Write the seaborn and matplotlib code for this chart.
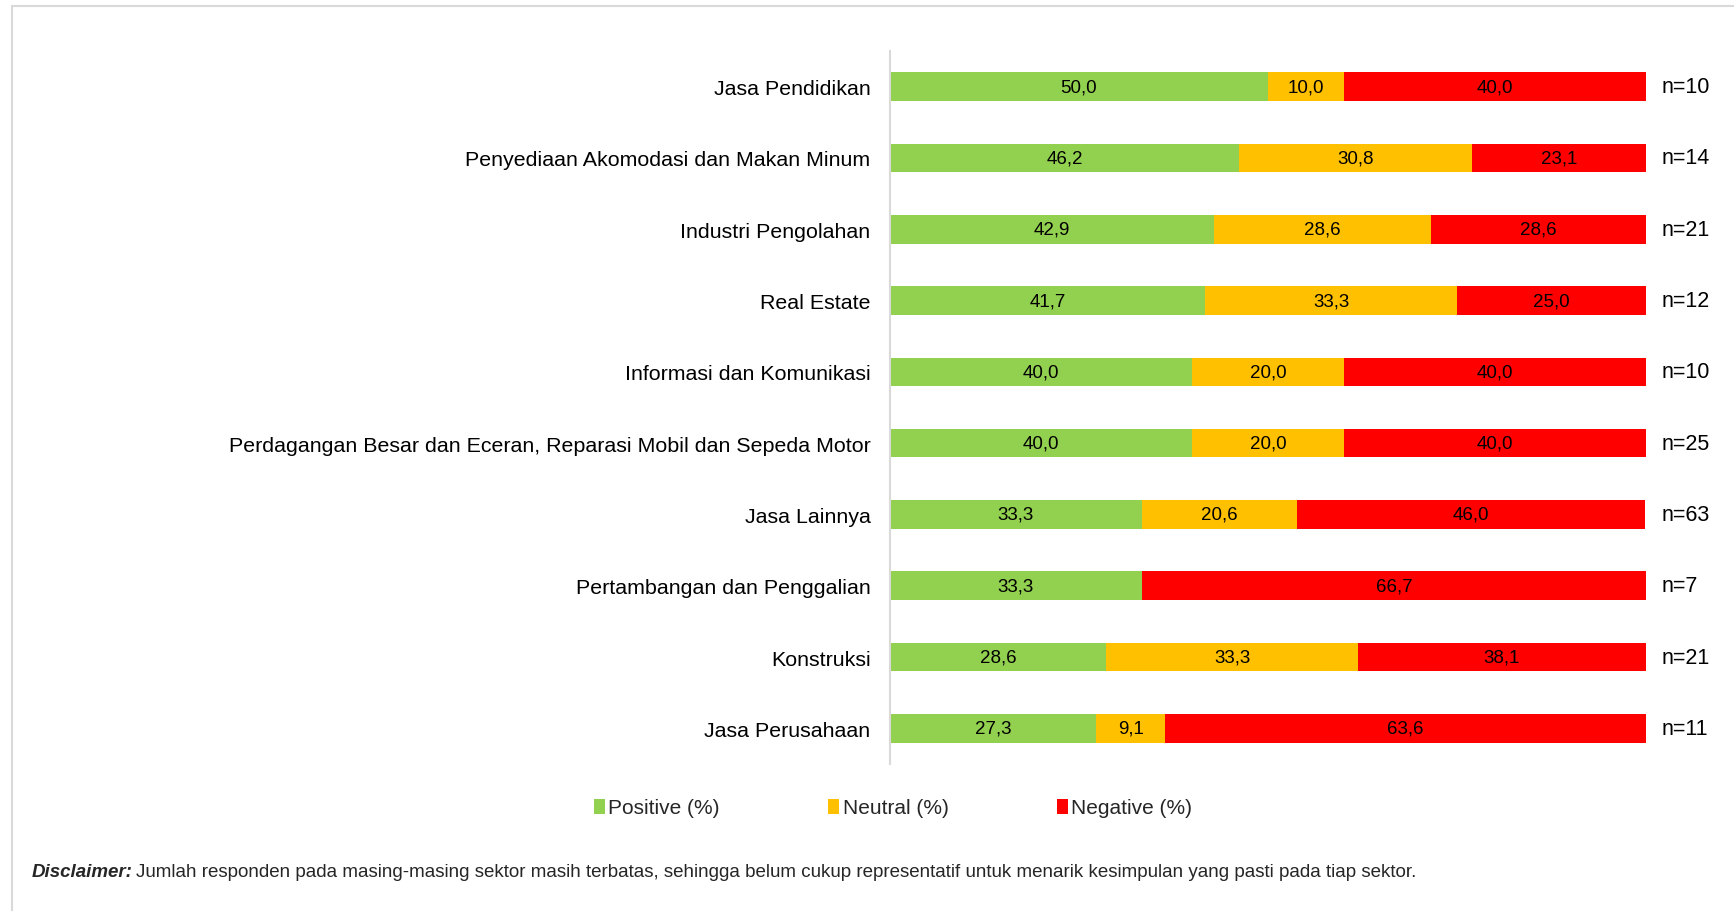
import matplotlib
matplotlib.use("Agg")
import matplotlib.pyplot as plt
import seaborn as sns
import pandas as pd
import numpy as np
from matplotlib.patches import Patch, Rectangle

sectors = [
    "Jasa Pendidikan",
    "Penyediaan Akomodasi dan Makan Minum",
    "Industri Pengolahan",
    "Real Estate",
    "Informasi dan Komunikasi",
    "Perdagangan Besar dan Eceran, Reparasi Mobil dan Sepeda Motor",
    "Jasa Lainnya",
    "Pertambangan dan Penggalian",
    "Konstruksi",
    "Jasa Perusahaan",
]
positive = [50.0, 46.2, 42.9, 41.7, 40.0, 40.0, 33.3, 33.3, 28.6, 27.3]
neutral = [10.0, 30.8, 28.6, 33.3, 20.0, 20.0, 20.6, 0.0, 33.3, 9.1]
negative = [40.0, 23.1, 28.6, 25.0, 40.0, 40.0, 46.0, 66.7, 38.1, 63.6]
n_resp = [10, 14, 21, 12, 10, 25, 63, 7, 21, 11]
legend_labels = ["Positive (%)", "Neutral (%)", "Negative (%)"]
colors = ["#92D050", "#FFC000", "#FF0000"]

sns.set_theme(style="white")
plt.rcParams["font.family"] = ["Liberation Sans", "DejaVu Sans"]

df = pd.DataFrame({
    "sector": sectors,
    "pos": positive,
    "neu": neutral,
    "neg": negative,
})
df["c1"] = df["pos"]
df["c2"] = df["pos"] + df["neu"]
df["c3"] = df["pos"] + df["neu"] + df["neg"]

fig = plt.figure(figsize=(17.34, 9.12), dpi=100)
ax = fig.add_axes([890 / 1734, 1 - 765 / 912, 756 / 1734, 713 / 912])

for col, c in zip(["c3", "c2", "c1"], colors[::-1]):
    sns.barplot(data=df, x=col, y="sector", order=sectors, color=c,
                width=0.4, linewidth=0, saturation=1, ax=ax, orient="h")

ax.set_xlim(0, 100)
ax.set_ylim(9.5, -0.5)
ax.set_xticks([])
ax.set_xlabel("")
ax.set_ylabel("")
for s in ["top", "right", "bottom"]:
    ax.spines[s].set_visible(False)
ax.spines["left"].set_color("#d9d9d9")
ax.spines["left"].set_linewidth(1.5)
ax.tick_params(axis="y", length=0, pad=14, labelsize=15.4, labelcolor="black")

for i in range(len(sectors)):
    starts = [0, positive[i], positive[i] + neutral[i]]
    vals = [positive[i], neutral[i], negative[i]]
    for st, v in zip(starts, vals):
        if v > 0:
            ax.text(st + v / 2, i, f"{v:.1f}".replace(".", ","), ha="center",
                    va="center", fontsize=13.5, color="black")
    ax.text(102.0, i, f"n={n_resp[i]}", ha="left", va="center",
            fontsize=15.5, color="black", clip_on=False)

handles = [Patch(facecolor=c, edgecolor="none") for c in colors]
fig.legend(handles, legend_labels, loc="center", bbox_to_anchor=(0.515, 1 - 809 / 912),
           ncol=3, frameon=False, fontsize=15, handlelength=0.55, handleheight=0.7,
           handletextpad=0.15, columnspacing=5.2)

fig.text(32 / 1734, 1 - 873 / 912, "Disclaimer:", fontsize=13.5, fontweight="bold",
         fontstyle="italic", ha="left", va="center")
fig.text(136 / 1734, 1 - 873 / 912,
         "Jumlah responden pada masing-masing sektor masih terbatas, sehingga belum cukup "
         "representatif untuk menarik kesimpulan yang pasti pada tiap sektor.",
         fontsize=13.5, ha="left", va="center")

fig.patches.append(Rectangle((12 / 1734, -0.1), 1.2, 1 - 7 / 912 + 0.1,
                             transform=fig.transFigure, fill=False,
                             edgecolor="#d9d9d9", linewidth=1.5))

fig.savefig("out.png", dpi=100, facecolor="white")
